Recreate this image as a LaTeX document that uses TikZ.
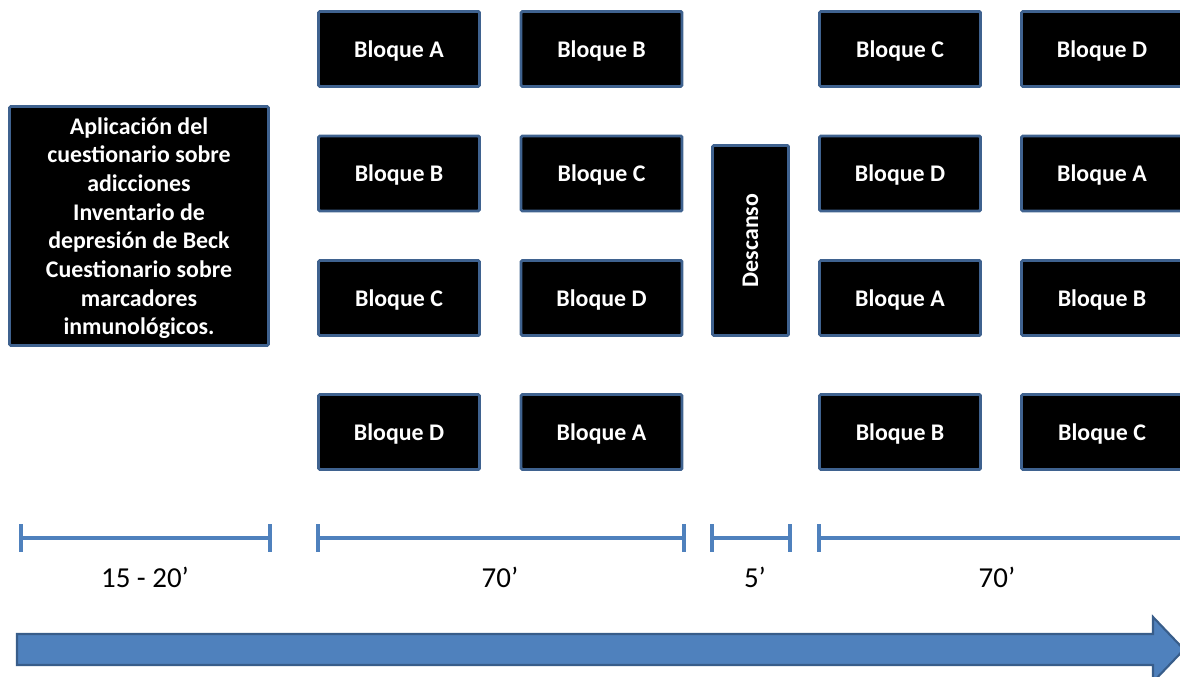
\documentclass[tikz,border=0pt]{standalone}
\usepackage{fontspec}
\setmainfont{Carlito}
\definecolor{edgeblue}{HTML}{3F628F}
\definecolor{barblue}{HTML}{4F81BD}
\definecolor{arrowedge}{HTML}{385D8A}
\tikzset{
  blockbox/.style={draw=edgeblue, line width=2.2pt, fill=black, text=white,
    rounded corners=1pt, inner sep=0pt, align=center, text depth=0pt,
    font=\fontsize{17.9}{21.5}\selectfont\bfseries},
  bloque/.style={blockbox, minimum width=120.75pt, minimum height=56.25pt},
  spanbar/.style={draw=barblue, line width=3pt},
  spanlabel/.style={font=\fontsize{21.7}{26}\selectfont, text=black, inner sep=0pt}
}
\begin{document}
\begin{tikzpicture}[x=0.75pt,y=-0.75pt]
\path[use as bounding box] (0,0) rectangle (1180,677);
\clip (0,0) rectangle (1180,677);

% questionnaire block
\node[blockbox, minimum width=194.25pt, minimum height=179.25pt] (intro) at (139,226)
  {Aplicación del\\cuestionario sobre\\adicciones\\Inventario de\\depresión de Beck\\Cuestionario sobre\\marcadores\\inmunológicos.};

% first session blocks
\node[bloque] (a1) at (399,49) {Bloque A};
\node[bloque] (a2) at (399,173.5) {Bloque B};
\node[bloque] (a3) at (399,298) {Bloque C};
\node[bloque] (a4) at (399,432) {Bloque D};
\node[bloque] (b1) at (601.5,49) {Bloque B};
\node[bloque] (b2) at (601.5,173.5) {Bloque C};
\node[bloque] (b3) at (601.5,298) {Bloque D};
\node[bloque] (b4) at (601.5,432) {Bloque A};

% break
\node[blockbox, minimum width=57pt, minimum height=142.5pt] (rest) at (750.5,240.5) {};
\node[rotate=90, text=white, font=\fontsize{17.9}{21.5}\selectfont\bfseries] (restlabel) at (rest.center) {Descanso};

% second session blocks
\node[bloque] (c1) at (900,49) {Bloque C};
\node[bloque] (c2) at (900,173.5) {Bloque D};
\node[bloque] (c3) at (900,298) {Bloque A};
\node[bloque] (c4) at (900,432) {Bloque B};
\node[bloque] (d1) at (1102,49) {Bloque D};
\node[bloque] (d2) at (1102,173.5) {Bloque A};
\node[bloque] (d3) at (1102,298) {Bloque B};
\node[bloque] (d4) at (1102,432) {Bloque C};

% duration spans
\coordinate (s1a) at (21,538);  \coordinate (s1b) at (270,538);
\coordinate (s2a) at (318,538); \coordinate (s2b) at (684,538);
\coordinate (s3a) at (712,538); \coordinate (s3b) at (790,538);
\coordinate (s4a) at (819,538); \coordinate (s4b) at (1186,538);
\foreach \p/\q in {s1a/s1b, s2a/s2b, s3a/s3b, s4a/s4b}{
  \draw[spanbar] (\p) -- (\q);
  \draw[spanbar] ([yshift=10.5pt]\p) -- ([yshift=-10.5pt]\p);
  \draw[spanbar] ([yshift=10.5pt]\q) -- ([yshift=-10.5pt]\q);
}
\node[spanlabel] (l1) at (145,577) {15 - 20’};
\node[spanlabel] (l2) at (500,577) {70’};
\node[spanlabel] (l3) at (755,577) {5’};
\node[spanlabel] (l4) at (997,577) {70’};

% time arrow
\draw[fill=barblue, draw=arrowedge, line width=1.6pt, line join=miter]
  (17,634) -- (1153,634) -- (1153,617) -- (1184,649.5) -- (1153,682)
  -- (1153,665) -- (17,665) -- cycle;
\end{tikzpicture}
\end{document}
